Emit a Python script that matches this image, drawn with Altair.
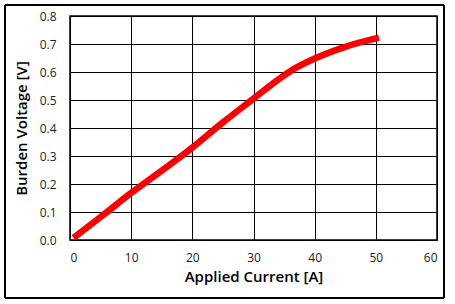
import altair as alt
import pandas as pd

current = [1, 5, 10, 15, 20, 25, 30, 33, 36, 40, 45, 50]
voltage = [0.015, 0.082, 0.168, 0.248, 0.33, 0.42, 0.505, 0.556, 0.603, 0.648, 0.69, 0.72]
x_ticks = [0, 10, 20, 30, 40, 50, 60]
y_ticks = [0.0, 0.1, 0.2, 0.3, 0.4, 0.5, 0.6, 0.7, 0.8]

df = pd.DataFrame({"current": current, "voltage": voltage})
FONT = "Open Sans"

line = alt.Chart(df).mark_line(color="#ff0000", strokeWidth=6.5, strokeCap="square", interpolate="monotone").encode(
    x=alt.X("current:Q", scale=alt.Scale(domain=[0, 60], nice=False),
            axis=alt.Axis(values=x_ticks, title="Applied Current [A]", grid=True, gridColor="black",
                          gridOpacity=1, ticks=False, domain=False, labelPadding=12,
                          labelFont=FONT, labelFontSize=12, labelColor="#222",
                          titleFont=FONT, titleFontSize=15, titleFontWeight=600, titlePadding=6,
                          titleColor="black")),
    y=alt.Y("voltage:Q", scale=alt.Scale(domain=[0, 0.8], nice=False),
            axis=alt.Axis(values=y_ticks, format=".1f", title="Burden Voltage [V]", grid=True,
                          gridColor="black", gridOpacity=1, ticks=False, domain=False, labelPadding=14,
                          labelFont=FONT, labelFontSize=12, labelColor="#222",
                          titleFont=FONT, titleFontSize=15, titleFontWeight=600, titlePadding=10,
                          titleColor="black")),
)

frame = alt.Chart(df).mark_rect(fill=None, stroke="black", strokeWidth=1.5, cornerRadius=2, clip=False).encode(
    x=alt.value(-65), x2=alt.value(374), y=alt.value(-11), y2=alt.value(282)
)

chart = alt.layer(frame, line).properties(
    width=367, height=224,
    autosize=alt.AutoSizeParams(type="none"),
    padding={"left": 70, "top": 16, "right": 18, "bottom": 64},
    background="white",
).configure_view(stroke="black", strokeWidth=1.5)

chart.save("out.html", embed_options={"renderer": "svg", "actions": False})
